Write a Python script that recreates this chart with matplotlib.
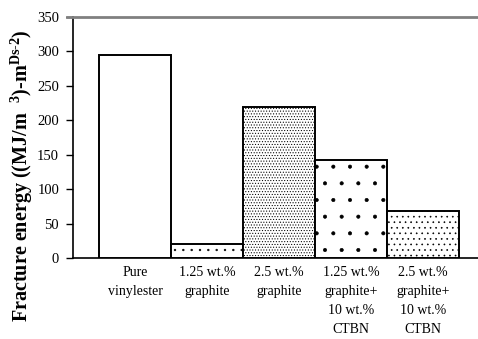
import matplotlib
matplotlib.use("Agg")
import matplotlib.pyplot as plt

# fracture energy per formulation
labels = [
    "Pure\nvinylester",
    "1.25 wt.%\ngraphite",
    "2.5 wt.%\ngraphite",
    "1.25 wt.%\ngraphite+\n10 wt.%\nCTBN",
    "2.5 wt.%\ngraphite+\n10 wt.%\nCTBN",
]
energy = [295, 20, 220, 143, 68]
hatches = ["", "..", "......", ".", "..."]

plt.rcParams["font.family"] = ["Liberation Serif", "DejaVu Serif"]
plt.rcParams["mathtext.fontset"] = "custom"
plt.rcParams["mathtext.rm"] = "Liberation Serif:bold"
plt.rcParams["mathtext.it"] = "Liberation Serif:bold"
plt.rcParams["mathtext.bf"] = "Liberation Serif:bold"
plt.rcParams["hatch.linewidth"] = 0.45

fig = plt.figure(figsize=(4.78, 3.39), dpi=100)
ax = fig.add_axes([73 / 478, 1 - 258 / 339, 1 - 73 / 478, 241 / 339])

x = list(range(len(energy)))
for xi, v, h in zip(x, energy, hatches):
    ax.bar(xi, v, width=1.0, facecolor="white", edgecolor="black",
           linewidth=1.4, hatch=h, zorder=3)

ax.set_xlim(-0.86, 4.76)
ax.set_ylim(0, 350)
ax.set_yticks(range(0, 351, 50))
ax.axhline(350, xmin=-0.015, color="#808080", lw=2.0, clip_on=False, zorder=4)

for s in ["top", "right"]:
    ax.spines[s].set_visible(False)
ax.spines["left"].set_linewidth(1.2)
ax.spines["bottom"].set_linewidth(1.2)

ax.tick_params(axis="y", direction="out", length=5, width=1.0, labelsize=10.5, pad=5)
ax.tick_params(axis="x", length=0, labelsize=10, pad=6)
ax.set_xticks(x)
ax.set_xticklabels(labels, linespacing=1.6)

fig.text(22 / 478, 1 - 176 / 339,
         "Fracture energy ((MJ/m  $^{3}$)-m$^{Ds\u2010 2}$)",
         rotation=90, ha="center", va="center",
         fontsize=14.5, fontweight="bold")

fig.savefig("out.png", dpi=100)
